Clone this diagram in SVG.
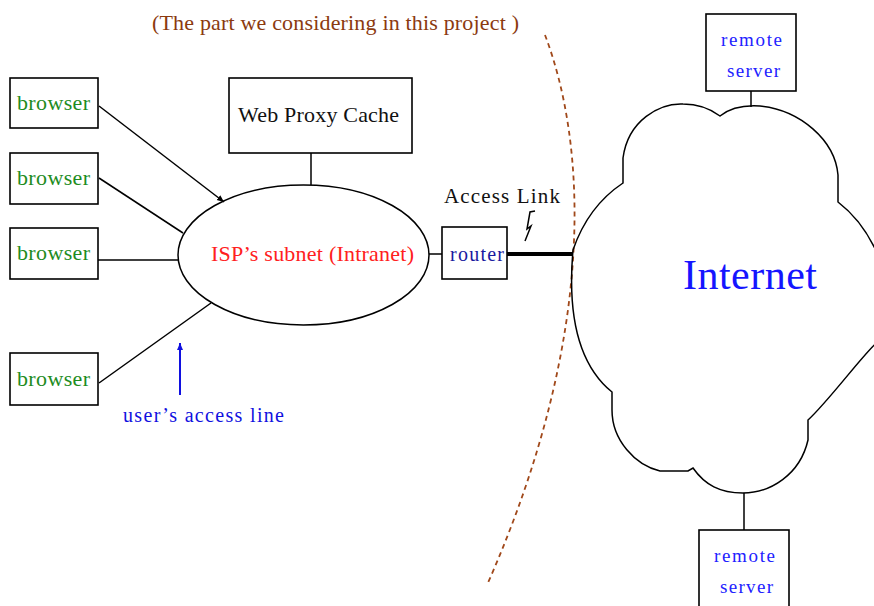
<svg xmlns="http://www.w3.org/2000/svg" width="874" height="606" viewBox="0 0 874 606">
<style>
.box{fill:#fff;stroke:#000;stroke-width:1.6}
.ln{fill:none;stroke:#000;stroke-width:1.5}
.t{font-family:"Liberation Serif","Times New Roman",serif}
.br{fill:#1e8c1e;font-size:22px}
.rs{fill:#2222ff;font-size:19px}
</style>
<defs>
<marker id="ah" markerWidth="8" markerHeight="8" refX="7" refY="4" orient="auto" markerUnits="userSpaceOnUse">
<path d="M0,1 L7,4 L0,7 z" fill="#000"/>
</marker>
<marker id="bh" markerWidth="8" markerHeight="8" refX="7" refY="4" orient="auto" markerUnits="userSpaceOnUse">
<path d="M0,1 L7,4 L0,7 z" fill="#1010e0"/>
</marker>
</defs>
<rect width="874" height="606" fill="#fff"/>

<text class="t" x="152" y="30" font-size="22" fill="#8b3a0f" textLength="367" lengthAdjust="spacing">(The part we considering in this project )</text>

<g id="connectors">
<line class="ln" x1="99" y1="106" x2="224" y2="202" marker-end="url(#ah)"/>
<line class="ln" x1="99" y1="178" x2="183" y2="233"/>
<line class="ln" x1="98" y1="260" x2="178" y2="260"/>
<line class="ln" x1="99" y1="383" x2="211" y2="303"/>
<line class="ln" x1="311" y1="153" x2="311" y2="185"/>
<line class="ln" x1="429" y1="254" x2="442" y2="254"/>
<line x1="507" y1="254" x2="573" y2="254" stroke="#000" stroke-width="4"/>
<line class="ln" x1="751" y1="91" x2="751" y2="107"/>
<line class="ln" x1="744" y1="493" x2="744" y2="530"/>
<line x1="180" y1="395" x2="180" y2="343" stroke="#1010e0" stroke-width="2" marker-end="url(#bh)"/>
<path class="ln" d="M535 211 L530 212 L527 229 L531 226 L525 241"/>
</g>

<g id="boundary">
<path d="M545 35 C585 140 600 330 487 585" fill="none" stroke="#a0481a" stroke-width="1.8" stroke-dasharray="5 4"/>
</g>

<g id="browser1"><rect class="box" x="10" y="78" width="88" height="50"/><text class="t br" x="17" y="110" textLength="73" lengthAdjust="spacing">browser</text></g>
<g id="browser2"><rect class="box" x="10" y="153" width="88" height="51"/><text class="t br" x="17" y="185" textLength="73" lengthAdjust="spacing">browser</text></g>
<g id="browser3"><rect class="box" x="10" y="228" width="88" height="51"/><text class="t br" x="17" y="260" textLength="73" lengthAdjust="spacing">browser</text></g>
<g id="browser4"><rect class="box" x="10" y="353" width="88" height="52"/><text class="t br" x="17" y="386" textLength="73" lengthAdjust="spacing">browser</text></g>

<g id="proxy"><rect class="box" x="229" y="78" width="183" height="75"/><text class="t" x="238" y="122" font-size="22" fill="#111" textLength="161" lengthAdjust="spacing">Web Proxy Cache</text></g>

<g id="subnet"><ellipse class="ln" cx="303.5" cy="255" rx="125.5" ry="70" fill="#fff"/><text class="t" x="211" y="261" font-size="22" fill="#ff2020" textLength="203" lengthAdjust="spacing">ISP’s subnet (Intranet)</text></g>

<g id="router"><rect class="box" x="442" y="227" width="65" height="52"/><text class="t" x="450" y="261" font-size="20" fill="#1a1aa0" textLength="54" lengthAdjust="spacing">router</text></g>

<text class="t" x="444" y="203" font-size="21" fill="#111" textLength="116" lengthAdjust="spacing">Access  Link</text>
<text class="t" x="123" y="422" font-size="20" fill="#1010e0" textLength="161" lengthAdjust="spacing">user’s access  line</text>

<g id="internet">
<path class="ln" fill="#fff" d="M573 250 C585 215 605 195 623 183 L623 158 C628 120 660 103 683 104 C700 104 712 110 720 116 C730 108 745 105 760 106 C800 110 835 140 838 175 L838 202 C855 215 870 235 880 260 L880 340 C870 345 830 400 808 420 L808 440 C800 475 770 493 743 493 C720 493 705 485 693 468 L688 471 L660 471 C635 465 612 440 612 410 L612 392 C585 370 566 330 573 250 Z"/>
<text class="t" x="683" y="289" font-size="42" fill="#1515ff" textLength="134" lengthAdjust="spacing">Internet</text>
</g>

<g id="server1"><rect class="box" x="706" y="14" width="90" height="77"/><text class="t rs" x="721" y="46" textLength="61" lengthAdjust="spacing">remote</text><text class="t rs" x="727" y="77" textLength="53" lengthAdjust="spacing">server</text></g>
<g id="server2"><rect class="box" x="699" y="530" width="90" height="90"/><text class="t rs" x="714" y="562" textLength="61" lengthAdjust="spacing">remote</text><text class="t rs" x="720" y="593" textLength="53" lengthAdjust="spacing">server</text></g>
</svg>
